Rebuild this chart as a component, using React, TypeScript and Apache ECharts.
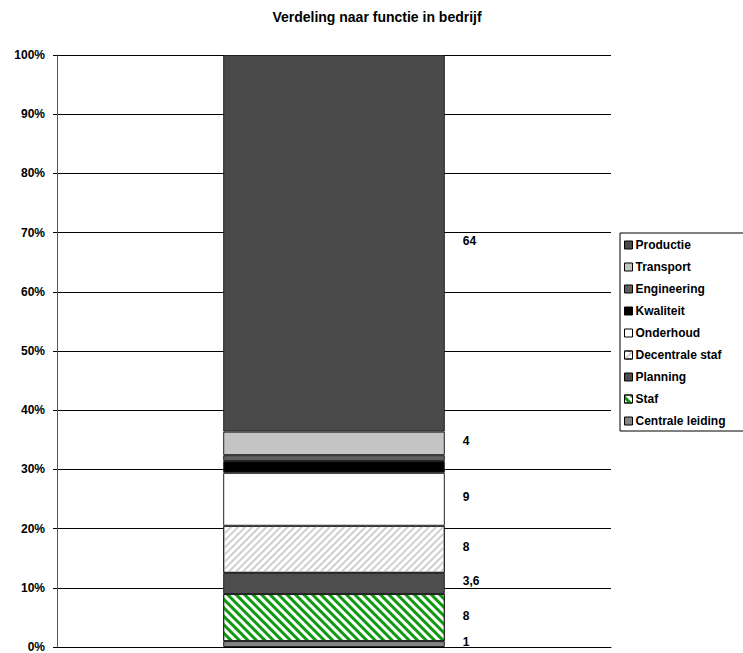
import React, { useEffect, useRef } from "react";
import * as echarts from "echarts";

const categories = [""];
const seriesNames = [
  "Centrale leiding",
  "Staf",
  "Planning",
  "Decentrale staf",
  "Onderhoud",
  "Kwaliteit",
  "Engineering",
  "Transport",
  "Productie",
];
const seriesValues = [1, 8, 3.6, 8, 9, 2, 1, 4, 64];
const showLabel = [true, true, true, true, true, false, false, true, true];
const yTicks = [0, 10, 20, 30, 40, 50, 60, 70, 80, 90, 100];

const colors = ["#858585", "#ffffff", "#4d4d4d", "#ffffff", "#ffffff", "#000000", "#5e5e5e", "#c4c4c4", "#4a4a4a"];

export default function App() {
  const ref = useRef<HTMLDivElement>(null);
  useEffect(() => {
    if (!ref.current) return;
    const chart = echarts.init(ref.current, null, { renderer: "svg" });
    const total = seriesValues.reduce((a, b) => a + b, 0);
    const font = "Liberation Sans, Arial, sans-serif";
    const decals: any = {
      Staf: {
        symbol: "rect",
        symbolSize: 1,
        dashArrayX: [1, 0],
        dashArrayY: [3, 3],
        rotation: Math.PI / 4,
        color: "#109a10",
      },
      "Decentrale staf": {
        symbol: "rect",
        symbolSize: 1,
        dashArrayX: [1, 0],
        dashArrayY: [2, 3],
        rotation: -Math.PI / 4,
        color: "#cfcfcf",
      },
    };
    const series = seriesNames.map((name, i) => ({
      name,
      type: "bar",
      stack: "total",
      barWidth: "40%",
      data: [(seriesValues[i] / total) * 100],
      itemStyle: {
        color: colors[i],
        borderColor: "#222",
        borderWidth: 1,
        decal: decals[name] || undefined,
      },
      label: {
        show: showLabel[i],
        position: "right",
        distance: 18,
        color: "#000",
        fontWeight: "bold",
        fontSize: 12,
        fontFamily: font,
        offset: [0, -2],
        formatter: () => String(seriesValues[i]).replace(".", ","),
      },
    }));
    chart.setOption({
      animation: false,
      backgroundColor: "#fff",
      title: {
        text: "Verdeling naar functie in bedrijf",
        left: 372,
        textAlign: "center",
        top: 5,
        textStyle: { fontSize: 14, fontWeight: "bold", fontFamily: font, color: "#000" },
      },
      legend: {
        orient: "vertical",
        left: 620,
        top: 233,
        data: [...seriesNames].reverse(),
        itemWidth: 8,
        itemHeight: 8,
        itemGap: 10,
        padding: [6, 40, 4, 4],
        borderColor: "#000",
        borderWidth: 1,
        icon: "rect",
        textStyle: { fontSize: 12, fontWeight: "bold", fontFamily: font, color: "#000", lineHeight: 12, padding: [0, 0, 0, -2] },
        itemStyle: { borderColor: "#000", borderWidth: 1 },
      },
      grid: { left: 57, right: 132, top: 55, bottom: 2 },
      xAxis: {
        type: "category",
        data: categories,
        axisLabel: { show: false },
        axisTick: { show: false },
        axisLine: { show: true, lineStyle: { color: "#000" } },
      },
      yAxis: {
        type: "value",
        min: yTicks[0],
        max: yTicks[yTicks.length - 1],
        interval: 10,
        axisLine: { show: true, lineStyle: { color: "#555" } },
        axisTick: { show: true, length: 4, lineStyle: { color: "#000" } },
        axisLabel: {
          formatter: "{value}%",
          fontSize: 12,
          fontWeight: "bold",
          fontFamily: font,
          color: "#000",
          margin: 12,
        },
        splitLine: { show: true, lineStyle: { color: "#000", width: 1 } },
      },
      series,
    });
    return () => chart.dispose();
  }, []);
  return <div ref={ref} style={{ position: "fixed", left: 0, top: 0, width: 743, height: 653 }} />;
}
